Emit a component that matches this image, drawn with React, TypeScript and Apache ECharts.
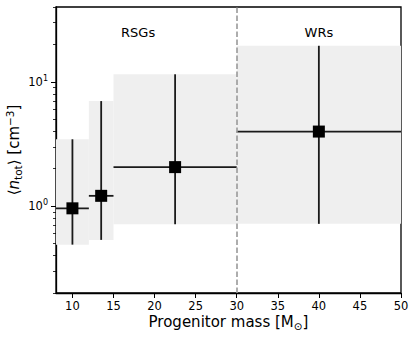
import React, { useEffect, useRef } from 'react';
import * as echarts from 'echarts';

const massCenter = [10, 13.5, 22.5, 40];
const massLow = [8, 12, 15, 30];
const massHigh = [12, 15, 30, 50];
const densityCenter = [0.96, 1.21, 2.06, 3.98];
const densityLow = [0.49, 0.535, 0.715, 0.72];
const densityHigh = [3.45, 7.0, 11.5, 19.5];
const groupLabels = ['RSGs', 'WRs'];
const groupLabelX = [18, 40];
const groupLabelY = [25, 25];
const boundaryMass = 30;
const xTicks = [10, 15, 20, 25, 30, 35, 40, 45, 50];
const yMajorTicks = [1, 10];
const yMajorLabels = ['10{sup|0}', '10{sup|1}'];
const yMinorTicks = [0.2, 0.3, 0.4, 0.5, 0.6, 0.7, 0.8, 0.9, 2, 3, 4, 5, 6, 7, 8, 9, 20, 30, 40];

const FONT = 'DejaVu Sans';

export default function App() {
  const ref = useRef<HTMLDivElement>(null);
  useEffect(() => {
    document.body.style.margin = '0';
    const chart = echarts.init(ref.current!, null, { renderer: 'svg' });
    const rows = massCenter.map((m, i) => [m, densityCenter[i], massLow[i], massHigh[i], densityLow[i], densityHigh[i]]);
    const option: any = {
      animation: false,
      grid: {
        left: 56, right: 15, top: 7, bottom: 44, containLabel: false, outerBoundsMode: 'none',
        show: true, borderColor: '#000', borderWidth: 1.3, backgroundColor: 'transparent',
      },
      xAxis: {
        type: 'value', min: 8, max: 50,
        name: 'Progenitor mass [M{sub|⊙}]', nameLocation: 'middle', nameGap: 19, nameMoveOverlap: false,
        nameTextStyle: { fontFamily: FONT, fontSize: 15, color: '#000', rich: { sub: { fontFamily: FONT, fontSize: 10.5, padding: [8, 0, 0, 0] } } },
        axisLine: { show: true, lineStyle: { color: '#000', width: 1.3 } },
        axisTick: { show: true, length: 5, lineStyle: { color: '#000', width: 1 }, customValues: xTicks },
        axisLabel: { fontFamily: FONT, fontSize: 11.5, color: '#000', margin: 7, customValues: xTicks },
        splitLine: { show: false },
      },
      yAxis: [
        {
          type: 'log', logBase: 10, min: 0.2, max: 40,
          name: '⟨{i|n}{sub|tot}⟩ [cm{sup|−3}]', nameLocation: 'middle', nameGap: 33, nameMoveOverlap: false,
          nameTextStyle: {
            fontFamily: FONT, fontSize: 15, color: '#000',
            rich: {
              i: { fontFamily: FONT, fontSize: 15, fontStyle: 'italic' },
              sub: { fontFamily: FONT, fontSize: 10.5, padding: [8, 0, 0, 0] },
              sup: { fontFamily: FONT, fontSize: 10.5, padding: [0, 0, 8, 0] },
            },
          },
          axisLine: { show: true, lineStyle: { color: '#000', width: 1.3 } },
          axisTick: { show: true, length: 5, lineStyle: { color: '#000', width: 1 }, customValues: yMajorTicks },
          axisLabel: {
            fontFamily: FONT, fontSize: 11.5, color: '#000', margin: 8, customValues: yMajorTicks,
            formatter: (v: number) => yMajorLabels[yMajorTicks.indexOf(Math.round(v))] ?? '',
            rich: { sup: { fontFamily: FONT, fontSize: 8, padding: [0, 0, 7, 0] } },
          },
          splitLine: { show: false },
        },
        {
          type: 'log', logBase: 10, min: 0.2, max: 40, position: 'left',
          axisLine: { show: false },
          axisTick: { show: true, length: 3, lineStyle: { color: '#000', width: 0.8 }, customValues: yMinorTicks },
          axisLabel: { show: false },
          splitLine: { show: false },
        },
      ],
      series: [
        {
          type: 'custom', z: 1, silent: true,
          data: rows,
          encode: { x: 0, y: 1 },
          renderItem: (_p: any, api: any) => {
            const a = api.coord([api.value(2), api.value(5)]);
            const b = api.coord([api.value(3), api.value(4)]);
            return { type: 'rect', shape: { x: a[0], y: a[1], width: b[0] - a[0], height: b[1] - a[1] }, style: { fill: '#efefef' } };
          },
        },
        {
          type: 'line', data: [], z: 2,
          markLine: {
            silent: true, symbol: 'none', label: { show: false },
            lineStyle: { color: '#999', width: 1.6, type: [5.5, 2.5] },
            data: [{ xAxis: boundaryMass }],
          },
        },
        {
          type: 'custom', z: 3, silent: true,
          data: rows,
          encode: { x: 0, y: 1 },
          renderItem: (_p: any, api: any) => {
            const l = api.coord([api.value(2), api.value(1)]);
            const r = api.coord([api.value(3), api.value(1)]);
            const lo = api.coord([api.value(0), api.value(4)]);
            const hi = api.coord([api.value(0), api.value(5)]);
            const st = { stroke: '#1a1a1a', lineWidth: 1.8 };
            return {
              type: 'group',
              children: [
                { type: 'line', shape: { x1: l[0], y1: l[1], x2: r[0], y2: r[1] }, style: st },
                { type: 'line', shape: { x1: lo[0], y1: lo[1], x2: hi[0], y2: hi[1] }, style: st },
              ],
            };
          },
        },
        {
          type: 'scatter', z: 4, symbol: 'rect', symbolSize: 12, silent: true,
          itemStyle: { color: '#000', opacity: 1 },
          data: massCenter.map((m, i) => [m, densityCenter[i]]),
        },
        {
          type: 'scatter', z: 5, symbolSize: 1, silent: true,
          itemStyle: { opacity: 0 },
          data: groupLabels.map((n, i) => ({ name: n, value: [groupLabelX[i], groupLabelY[i]] })),
          label: { show: true, position: 'inside', formatter: '{b}', fontFamily: FONT, fontSize: 13, color: '#000', opacity: 1 },
        },
      ],
    };
    chart.setOption(option);
    return () => chart.dispose();
  }, []);
  return <div ref={ref} style={{ width: 416, height: 337 }} />;
}
